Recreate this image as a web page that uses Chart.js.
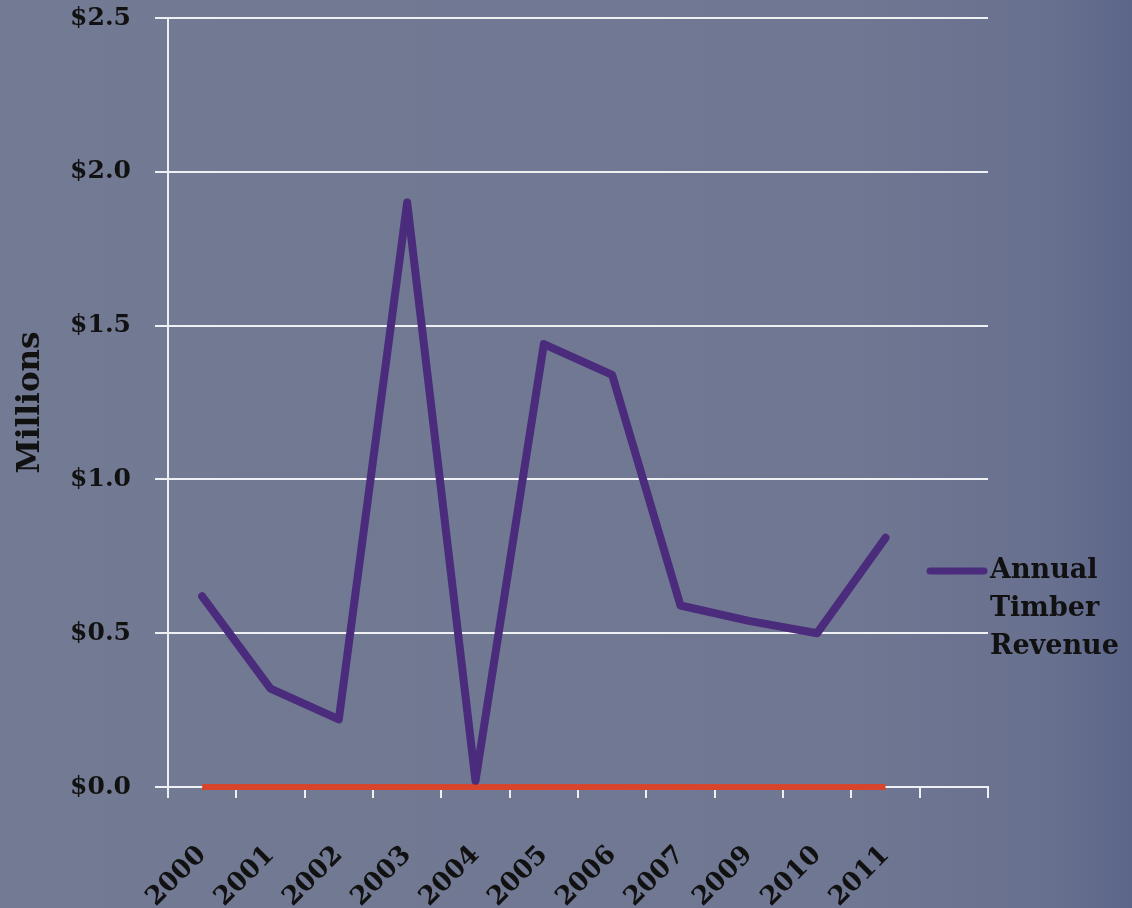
<!DOCTYPE html>
<html>
<head>
<meta charset="utf-8">
<script src="https://cdn.jsdelivr.net/npm/chart.js@4.4.1/dist/chart.umd.min.js"></script>
<style>
  html, body { margin: 0; padding: 0; }
  body {
    width: 1132px; height: 908px; overflow: hidden;
    background: linear-gradient(to right, #737a93 0%, #6f7792 75%, #68708f 93%, #5c6689 100%);
  }
  canvas { display: block; }
</style>
</head>
<body>
<canvas id="chart" width="1132" height="908"></canvas>
<script>
// values (millions of dollars)
var years = ['2000', '2001', '2002', '2003', '2004', '2005', '2006', '2007', '2009', '2010', '2011', ''];
var revenue = [0.62, 0.32, 0.22, 1.90, 0.02, 1.44, 1.34, 0.59, 0.54, 0.50, 0.81];
var baseline = [0, 0, 0, 0, 0, 0, 0, 0, 0, 0, 0];
var seriesName = ['Annual', 'Timber', 'Revenue'];
var yTicks = [0, 0.5, 1.0, 1.5, 2.0, 2.5];

var serif = "'DejaVu Serif', 'Liberation Serif', serif";
var purple = '#4b2b7c';
var red = '#d9452c';
var white = '#eef0f4';

// legend drawn by hand so the name can wrap on three lines
var sideLegend = {
  id: 'sideLegend',
  afterDatasetsDraw: function(chart) {
    var ctx = chart.ctx;
    var area = chart.chartArea;
    var y0 = 571;
    ctx.save();
    ctx.strokeStyle = purple;
    ctx.lineWidth = 7;
    ctx.lineCap = 'round';
    ctx.beginPath();
    ctx.moveTo(area.right - 58, y0);
    ctx.lineTo(area.right - 4, y0);
    ctx.stroke();
    ctx.fillStyle = '#111';
    ctx.font = 'bold 27px ' + serif;
    ctx.textBaseline = 'middle';
    ctx.textAlign = 'left';
    for (let i = 0; i < seriesName.length; i++) {
      ctx.fillText(seriesName[i], area.right + 2, y0 + i * 38);
    }
    ctx.restore();
  }
};

new Chart(document.getElementById('chart'), {
  type: 'line',
  data: {
    labels: years,
    datasets: [{
      label: seriesName.join(' '),
      data: revenue,
      borderColor: purple,
      borderWidth: 8,
      borderCapStyle: 'round',
      borderJoinStyle: 'round',
      pointRadius: 0,
      tension: 0,
      fill: false,
      clip: 20
    }, {
      label: 'zero',
      data: baseline,
      borderColor: red,
      borderWidth: 6,
      pointRadius: 0,
      tension: 0,
      fill: false,
      clip: 20
    }]
  },
  options: {
    responsive: false,
    animation: false,
    layout: { padding: { left: 0, right: 144, top: 18, bottom: 0 } },
    plugins: {
      legend: { display: false },
      tooltip: { enabled: false }
    },
    scales: {
      x: {
        offset: true,
        grid: { display: true, drawOnChartArea: false, drawTicks: true, tickLength: 11, color: white, lineWidth: 2, offset: true },
        border: { display: true, color: white, width: 2 },
        ticks: {
          autoSkip: false, minRotation: 45, maxRotation: 45, padding: 42,
          color: '#111', font: { family: serif, size: 26, weight: 'bold' }
        },
        afterFit: function(scale) { scale.height = 121; }
      },
      y: {
        min: 0, max: 2.5,
        afterBuildTicks: function(scale) { scale.ticks = yTicks.map(function(v) { return { value: v }; }); },
        grid: { color: white, lineWidth: 2, tickLength: 13 },
        border: { display: true, color: white, width: 2 },
        ticks: {
          padding: 24, color: '#111',
          font: { family: serif, size: 25, weight: 'bold' },
          callback: function(v) { return '$' + Number(v).toFixed(1); }
        },
        title: {
          display: true, text: 'Millions', color: '#111', padding: { top: 12, bottom: 0 },
          font: { family: serif, size: 31, weight: 'bold' }
        },
        afterFit: function(scale) {
          scale.width = 168;
          scale.paddingTop = 0;
          scale.paddingBottom = 0;
        }
      }
    }
  },
  plugins: [sideLegend]
});
</script>
</body>
</html>
